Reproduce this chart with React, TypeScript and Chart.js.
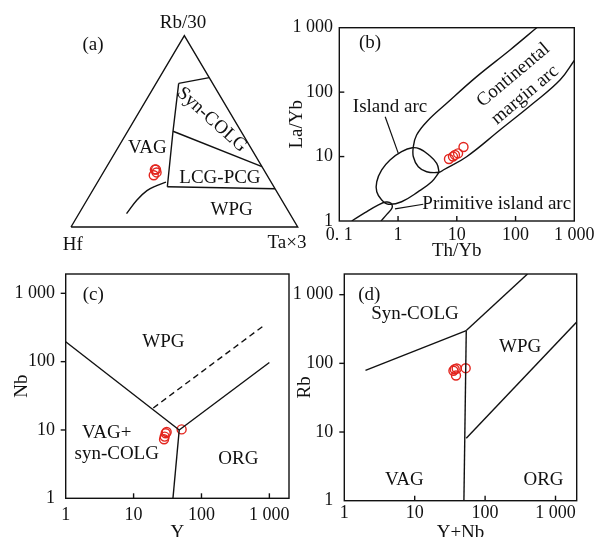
import React, { useEffect, useRef } from "react";
import { Chart, registerables } from "chart.js";
Chart.register(...registerables);

const FONT = '"Liberation Serif", "Times New Roman", serif';
const INK = "#111";
const RED = "#e3261f";

// ---------- (a) Hf – Rb/30 – Ta×3 ternary, rows are [Hf, Rb/30, Ta×3] ----------
const aTriangle = [[100, 0, 0], [0, 100, 0], [0, 0, 100], [100, 0, 0]];
const aSynTop = [[15, 75, 10], [0, 78, 22]];
const aVagDivide = [[15, 75, 10], [30, 50, 20], [47, 21, 32]];
const aSynLcg = [[30, 50, 20], [0, 31.5, 68.5]];
const aLcgWpg = [[47, 21, 32], [0, 20, 80]];
const aVagWpg = [[72, 7, 21], [64, 14, 22], [57, 19, 24], [51.4, 21.6, 27], [46.4, 23.4, 30.2]];
const aSamples = [[48, 30, 22], [48, 28.5, 23.5], [50, 27, 23], [47.5, 30, 22.5]];

// ---------- (b) Th/Yb vs La/Yb ----------
const bTicksX = [0.1, 1, 10, 100, 1000];
const bLabelsX = ["0. 1", "1", "10", "100", "1 000"];
const bTicksY = [1, 10, 100, 1000];
const bLabelsY = ["1", "10", "100", "1 000"];
const bIslandArc = [[5.0, 5.7], [4.55, 7.87], [3.27, 10.8], [2.36, 13.1], [1.75, 13.7], [1.15, 11.9], [0.73, 8.85], [0.527, 6.19], [0.434, 4.07], [0.434, 2.85], [0.527, 2.12], [0.683, 1.82], [1.15, 1.99], [2.21, 2.85], [3.74, 4.07], [5.0, 5.7]];
const bContinental = [[234, 1015], [80.5, 451], [21.8, 174], [6.73, 67.1], [3.08, 34.8], [2.07, 21.6], [1.82, 14.2], [1.82, 9.95], [2.21, 6.96], [3.07, 5.82], [5.0, 5.7], [5.89, 6.19], [14.7, 9.95], [54.3, 25.8], [200, 67.1], [571, 154], [1000, 310]];
const bPrimitive = [[0.163, 1], [0.274, 1.35], [0.456, 1.77], [0.624, 1.97], [0.759, 1.88], [0.789, 1.59], [0.649, 1.28], [0.513, 1]];
const bIslandLeader = [[0.604, 41.6], [1.01, 11.2]];
const bPrimLeader = [[2.69, 1.82], [0.887, 1.54]];
const bSamples = [[7.36, 9.17], [8.61, 10.0], [9.31, 10.6], [10.5, 11.2], [13.0, 14.1]];

// ---------- (c) Y vs Nb ----------
const cTicks = [1, 10, 100, 1000];
const cLabels = ["1", "10", "100", "1 000"];
const cWpgVag = [[1, 196], [47, 10]];
const cWpgOrg = [[47, 10], [1000, 97]];
const cVagOrg = [[47, 10], [38, 1]];
const cDashed = [[19.5, 21], [815, 333]];
const cSamples = [[29.7, 8.94], [28.7, 8.0], [28.1, 7.3], [30.7, 9.35], [51, 10.2]];

// ---------- (d) Y+Nb vs Rb ----------
const dTicks = [1, 10, 100, 1000];
const dLabels = ["1", "10", "100", "1 000"];
const dSynVag = [[2, 79], [54, 300]];
const dSynWpg = [[54, 300], [400, 2000]];
const dVagWpg = [[54, 300], [50, 1]];
const dWpgOrg = [[54, 8.1], [2000, 400]];
const dSamples = [[37, 82], [39.5, 84], [38.6, 66.5], [35.5, 78], [53, 85]];

const SQ3 = Math.sqrt(3) / 2;
const tern = (rows: number[][]) =>
  rows.map(([hf, rb, ta]) => {
    const s = hf + rb + ta;
    return { x: (ta + rb / 2) / s, y: (rb * SQ3) / s };
  });
const xy = (rows: number[][]) => rows.map(([x, y]) => ({ x, y }));

function line(data: any[], extra: any = {}) {
  return {
    data, showLine: true, borderColor: INK, borderWidth: 1.4, pointRadius: 0,
    fill: false, tension: 0, clip: false, ...extra,
  };
}
function samples(data: any[]) {
  return {
    data, showLine: false, pointRadius: 4.5, pointStyle: "circle",
    pointBorderColor: RED, pointBackgroundColor: "rgba(0,0,0,0)", pointBorderWidth: 1.4,
  };
}

type Lbl = { t: string; x: number; y: number; rot?: number; size?: number };
function deco(o: { box?: boolean; labels: Lbl[]; xt?: number[]; yt?: number[]; ydir?: number }) {
  return {
    id: "deco",
    afterDraw(chart: any) {
      const { ctx, chartArea: a, scales } = chart;
      ctx.save();
      ctx.strokeStyle = INK;
      ctx.lineWidth = 1.4;
      if (o.box) ctx.strokeRect(a.left, a.top, a.right - a.left, a.bottom - a.top);
      const L = 5;
      (o.xt || []).forEach((v) => {
        const p = scales.x.getPixelForValue(v);
        ctx.beginPath(); ctx.moveTo(p, a.bottom); ctx.lineTo(p, a.bottom - L); ctx.stroke();
      });
      (o.yt || []).forEach((v) => {
        const p = scales.y.getPixelForValue(v);
        const d = (o.ydir || 1) * L;
        ctx.beginPath(); ctx.moveTo(a.left, p); ctx.lineTo(a.left + d, p); ctx.stroke();
      });
      ctx.fillStyle = INK;
      ctx.textAlign = "center";
      ctx.textBaseline = "middle";
      o.labels.forEach((l) => {
        const px = scales.x.getPixelForValue(l.x);
        const py = scales.y.getPixelForValue(l.y);
        ctx.save();
        ctx.translate(px, py);
        if (l.rot) ctx.rotate((l.rot * Math.PI) / 180);
        ctx.font = `${l.size || 19}px ${FONT}`;
        ctx.fillText(l.t, 0, 0);
        ctx.restore();
      });
      ctx.restore();
    },
  };
}

function logAxis(p: { min: number; max: number; ticks: number[]; labels: string[]; fit: number; horiz: boolean; pad: number; title: string; tpad: number }) {
  return {
    type: "logarithmic",
    min: p.min, max: p.max,
    grid: { display: false, drawTicks: false },
    border: { display: false },
    ticks: {
      autoSkip: false, maxRotation: 0, minRotation: 0, padding: p.pad, color: INK,
      font: { family: FONT, size: 18 },
      callback: (_v: any, i: number) => p.labels[i],
    },
    afterBuildTicks: (s: any) => { s.ticks = p.ticks.map((v) => ({ value: v })); },
    afterFit: (s: any) => {
      if (p.horiz) { s.height = p.fit; s.paddingLeft = 0; s.paddingRight = 0; }
      else { s.width = p.fit; s.paddingTop = 0; s.paddingBottom = 0; }
    },
    title: {
      display: true, text: p.title, color: INK, font: { family: FONT, size: 19 },
      padding: p.horiz ? { top: 0, bottom: p.tpad } : { top: p.tpad, bottom: 0 },
    },
  };
}

const baseOpts = {
  responsive: false, animation: false, events: [],
  plugins: { legend: { display: false }, tooltip: { enabled: false } },
};

function buildA() {
  return {
    type: "scatter",
    data: {
      datasets: [
        line(tern(aTriangle)), line(tern(aSynTop)), line(tern(aVagDivide)),
        line(tern(aSynLcg)), line(tern(aLcgWpg)), line(tern(aVagWpg), { tension: 0.4 }),
        samples(tern(aSamples)),
      ],
    },
    options: {
      ...baseOpts,
      layout: { padding: { left: 71, right: 14.3, top: 3, bottom: 35 } },
      scales: {
        x: { type: "linear", min: 0, max: 1, display: false },
        y: { type: "linear", min: 0, max: 1, display: false },
      },
    },
    plugins: [deco({
      labels: [
        { t: "Rb/30", x: 0.494, y: 0.924 }, { t: "(a)", x: 0.097, y: 0.821 },
        { t: "Hf", x: 0.008, y: -0.083 }, { t: "Ta×3", x: 0.953, y: -0.073 },
        { t: "VAG", x: 0.337, y: 0.356 }, { t: "Syn-COLG", x: 0.621, y: 0.485, rot: 42 },
        { t: "LCG-PCG", x: 0.657, y: 0.222 }, { t: "WPG", x: 0.709, y: 0.076 },
      ],
    })],
  };
}

function buildB() {
  return {
    type: "scatter",
    data: {
      datasets: [
        line(xy(bIslandArc), { tension: 0.4, clip: 0 }),
        line(xy(bContinental), { tension: 0.4, clip: 0 }),
        line(xy(bPrimitive), { tension: 0.4, clip: 0 }),
        line(xy(bIslandLeader), { borderWidth: 1.2 }),
        line(xy(bPrimLeader), { borderWidth: 1.2 }),
        samples(xy(bSamples)),
      ],
    },
    options: {
      ...baseOpts,
      layout: { padding: { left: 0, right: 19.7, top: 27.7, bottom: 0 } },
      scales: {
        x: logAxis({ min: 0.1, max: 1000, ticks: bTicksX, labels: bLabelsX, fit: 47, horiz: true, pad: 3.5, title: "Th/Yb", tpad: 5.1 }),
        y: logAxis({ min: 1, max: 1000, ticks: bTicksY, labels: bLabelsY, fit: 57.3, horiz: false, pad: 6.3, title: "La/Yb", tpad: 3.3 }),
      },
    },
    plugins: [deco({
      box: true, xt: [1, 10, 100], yt: [10, 100], ydir: 1,
      labels: [
        { t: "(b)", x: 0.333, y: 579 }, { t: "Island arc", x: 0.73, y: 59 },
        { t: "Primitive island arc", x: 47.8, y: 1.84 },
        { t: "Continental", x: 91.6, y: 184, rot: -40 },
        { t: "margin arc", x: 145, y: 90.3, rot: -40 },
      ],
    })],
  };
}

function buildC() {
  return {
    type: "scatter",
    data: {
      datasets: [
        line(xy(cWpgVag)), line(xy(cWpgOrg)), line(xy(cVagOrg)),
        line(xy(cDashed), { borderDash: [6, 4] }),
        samples(xy(cSamples)),
      ],
    },
    options: {
      ...baseOpts,
      layout: { padding: { left: 0, right: 11, top: 12, bottom: 0 } },
      scales: {
        x: logAxis({ min: 1, max: 1946, ticks: cTicks, labels: cLabels, fit: 53.7, horiz: true, pad: 6.4, title: "Y", tpad: 7.6 }),
        y: logAxis({ min: 1, max: 1918, ticks: cTicks, labels: cLabels, fit: 65.7, horiz: false, pad: 10.7, title: "Nb", tpad: 10.3 }),
      },
    },
    plugins: [deco({
      box: true, xt: [10, 100, 1000], yt: [10, 100, 1000], ydir: -1,
      labels: [
        { t: "(c)", x: 2.55, y: 944 }, { t: "WPG", x: 27.4, y: 196 },
        { t: "VAG+", x: 4.02, y: 8.94 }, { t: "syn-COLG", x: 5.64, y: 4.45 },
        { t: "ORG", x: 349, y: 3.76 },
      ],
    })],
  };
}

function buildD() {
  return {
    type: "scatter",
    data: {
      datasets: [
        line(xy(dSynVag)), line(xy(dSynWpg), { clip: 0 }), line(xy(dVagWpg)),
        line(xy(dWpgOrg), { clip: 0 }),
        samples(xy(dSamples)),
      ],
    },
    options: {
      ...baseOpts,
      layout: { padding: { left: 0, right: 17.3, top: 12, bottom: 0 } },
      scales: {
        x: logAxis({ min: 1, max: 2000, ticks: dTicks, labels: dLabels, fit: 51.3, horiz: true, pad: 1.5, title: "Y+Nb", tpad: 7.6 }),
        y: logAxis({ min: 1, max: 2000, ticks: dTicks, labels: dLabels, fit: 62.3, horiz: false, pad: 11, title: "Rb", tpad: 11.6 }),
      },
    },
    plugins: [deco({
      box: true, xt: [10, 100, 1000], yt: [10, 100, 1000], ydir: -1,
      labels: [
        { t: "(d)", x: 2.27, y: 1000 }, { t: "Syn-COLG", x: 10.1, y: 528 },
        { t: "WPG", x: 315, y: 172 }, { t: "VAG", x: 7.13, y: 2.0 },
        { t: "ORG", x: 675, y: 2.0 },
      ],
    })],
  };
}

function Panel({ left, top, width, height, build }: { left: number; top: number; width: number; height: number; build: () => any }) {
  const ref = useRef<HTMLCanvasElement>(null);
  useEffect(() => {
    const chart = new Chart(ref.current as HTMLCanvasElement, build());
    return () => chart.destroy();
  }, []);
  return (
    <canvas ref={ref} width={width} height={height}
      style={{ position: "absolute", left, top, width, height }} />
  );
}

export default function App() {
  return (
    <div style={{ position: "fixed", left: 0, top: 0, width: 594, height: 537, overflow: "hidden", background: "#fff" }}>
      <Panel left={0} top={0} width={312} height={262} build={buildA} />
      <Panel left={282} top={0} width={312} height={268} build={buildB} />
      <Panel left={0} top={262} width={300} height={290} build={buildC} />
      <Panel left={282} top={262} width={312} height={290} build={buildD} />
    </div>
  );
}
